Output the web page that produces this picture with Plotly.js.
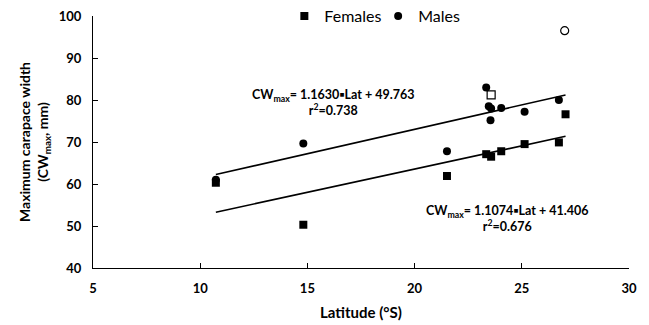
<!DOCTYPE html>
<html><head><meta charset="utf-8">
<script src="https://cdn.plot.ly/plotly-3.0.1.min.js"></script>
<style>html,body{margin:0;padding:0;background:#fff}#chart{width:649px;height:325px}</style>
</head><body><div id="chart"></div>
<script>
// Latitude (°S) and maximum carapace width (mm)
const femaleLat = [10.73, 14.81, 21.51, 23.34, 23.57, 24.04, 25.13, 26.73, 27.04];
const femaleCW  = [60.3, 50.3, 61.9, 67.1, 66.5, 67.8, 69.5, 69.9, 76.6];
const maleLat   = [10.73, 14.81, 21.51, 23.34, 23.46, 23.57, 23.54, 24.04, 25.13, 26.73];
const maleCW    = [61.0, 69.65, 67.8, 83.0, 78.5, 78.0, 75.2, 78.1, 77.2, 80.0];
const femaleOutLat = [23.57];
const femaleOutCW  = [81.2];
const maleOutLat   = [27.0];
const maleOutCW    = [96.5];
// regression coefficients (slope, intercept)
const maleFit   = [1.1630, 49.763];
const femaleFit = [1.1074, 41.406];
const fitRange  = [10.73, 27.04];
const xTicks = [5, 10, 15, 20, 25, 30];
const yTicks = [40, 50, 60, 70, 80, 90, 100];

const FONT = 'Lato, "Liberation Sans", sans-serif';
const fitY = (c) => fitRange.map(x => c[0] * x + c[1]);
const dot = '▪';

const traces = [
  {x: fitRange, y: fitY(maleFit), mode: 'lines', line: {color: '#000', width: 1.6}, showlegend: false, hoverinfo: 'skip'},
  {x: fitRange, y: fitY(femaleFit), mode: 'lines', line: {color: '#000', width: 1.6}, showlegend: false, hoverinfo: 'skip'},
  {x: femaleLat, y: femaleCW, mode: 'markers', name: 'Females', legend: 'legend', marker: {symbol: 'square', size: 8, color: '#000'}},
  {x: maleLat, y: maleCW, mode: 'markers', name: 'Males', legend: 'legend2', marker: {symbol: 'circle', size: 8, color: '#000'}},
  {x: femaleOutLat, y: femaleOutCW, mode: 'markers', showlegend: false, marker: {symbol: 'square-open', size: 8, color: '#000', line: {width: 1.2}}},
  {x: maleOutLat, y: maleOutCW, mode: 'markers', showlegend: false, marker: {symbol: 'circle-open', size: 8, color: '#000', line: {width: 1.2}}}
];

const legendBase = {orientation: 'h', xanchor: 'left', y: 1.0, yanchor: 'middle',
  font: {family: FONT, size: 16, color: '#000'}, bgcolor: 'rgba(0,0,0,0)', itemwidth: 30};

const layout = {
  width: 649, height: 325,
  margin: {l: 93, r: 20, t: 16, b: 57, autoexpand: false},
  paper_bgcolor: '#fff', plot_bgcolor: '#fff',
  font: {family: FONT, color: '#000', size: 13},
  showlegend: true,
  legend: Object.assign({}, legendBase, {x: 0.357}),
  legend2: Object.assign({}, legendBase, {x: 0.532}),
  xaxis: {
    range: [5, 30], tickvals: xTicks, ticktext: xTicks.map(v => '<b>' + v + '</b>'),
    showgrid: false, zeroline: false, showline: true, linecolor: '#000', linewidth: 1,
    ticks: 'inside', ticklen: 5, tickcolor: '#000', ticklabelstandoff: 8,
    tickfont: {family: FONT, size: 13},
    title: {text: '<b>Latitude (°S)</b>', font: {family: FONT, size: 15}, standoff: 12}
  },
  yaxis: {
    range: [40, 100], tickvals: yTicks, ticktext: yTicks.map(v => '<b>' + v + '</b>'),
    showgrid: false, zeroline: false, showline: true, linecolor: '#000', linewidth: 1,
    ticks: 'inside', ticklen: 5, tickcolor: '#000', ticklabelstandoff: 8,
    tickfont: {family: FONT, size: 13},
    title: {text: '<b>Maximum carapace width<br>(CW<sub>max</sub>, mm)</b>', font: {family: FONT, size: 14}, standoff: 6}
  },
  annotations: [
    {xref: 'x', yref: 'y', x: 16.21, y: 79.4, text: '<b>CW<sub>max</sub>= 1.1630' + dot + 'Lat + 49.763<br>r<sup>2</sup>=0.738</b>',
     showarrow: false, font: {family: FONT, size: 12.5}, align: 'center'},
    {xref: 'x', yref: 'y', x: 24.3, y: 51.8, text: '<b>CW<sub>max</sub>= 1.1074' + dot + 'Lat + 41.406<br>r<sup>2</sup>=0.676</b>',
     showarrow: false, font: {family: FONT, size: 12.5}, align: 'center'}
  ]
};

Plotly.newPlot('chart', traces, layout, {displayModeBar: false, staticPlot: true});
</script>
</body></html>
